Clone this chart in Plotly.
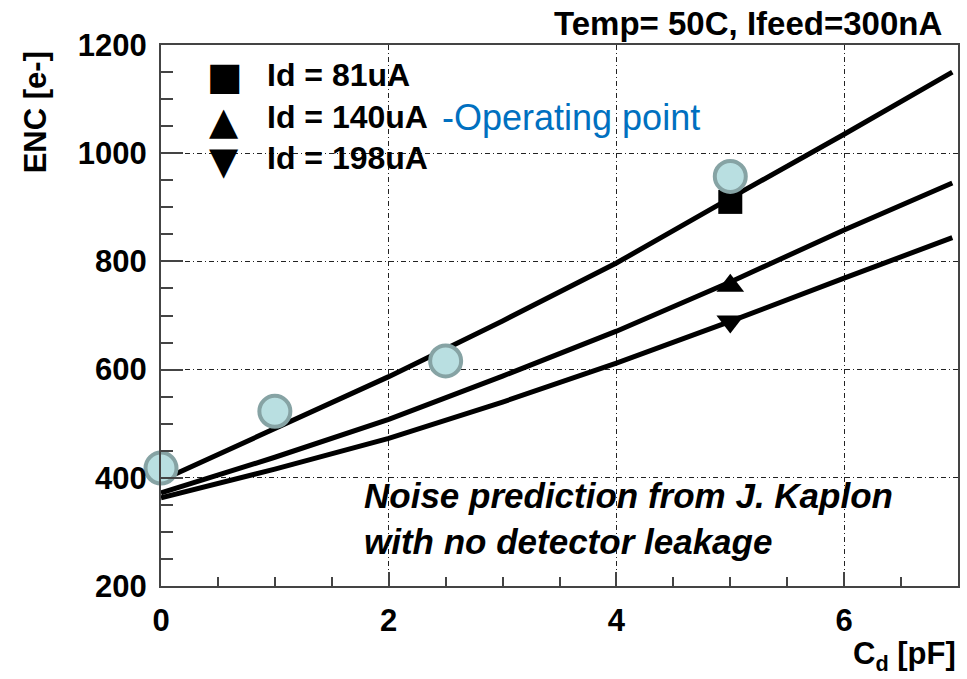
import plotly.graph_objects as go

# ---------------- data ----------------
cd_model = [0, 1, 2, 3, 4, 5, 6, 6.95]
enc_81uA = [395, 490, 587, 690, 797, 917, 1035, 1150]
enc_140uA = [372, 438, 508, 588, 671, 762, 858, 945]
enc_198uA = [363, 416, 473, 540, 612, 689, 769, 844]

cd_meas_id = [5]
enc_meas_81 = [910]
enc_meas_140 = [755]
enc_meas_198 = [689]

cd_circles = [0, 1, 2.5, 5]
enc_circles = [418, 523, 616, 957]

legend_labels = ["Id = 81uA", "Id = 140uA", "Id = 198uA"]
x_ticks = [0, 2, 4, 6]
y_ticks = [200, 400, 600, 800, 1000, 1200]

FONT = "Liberation Sans, Arial, sans-serif"

fig = go.Figure()

for ys, nm in zip([enc_81uA, enc_140uA, enc_198uA], legend_labels):
    fig.add_trace(go.Scatter(x=cd_model, y=ys, mode="lines", name=nm,
                             line=dict(color="black", width=5), showlegend=False))

fig.add_trace(go.Scatter(x=cd_meas_id, y=enc_meas_81, mode="markers", name=legend_labels[0],
                         marker=dict(symbol="square", size=24, color="black"), showlegend=False))
fig.add_trace(go.Scatter(x=cd_meas_id, y=enc_meas_140, mode="markers", name=legend_labels[1],
                         marker=dict(symbol="triangle-up", size=24, color="black"), showlegend=False))
fig.add_trace(go.Scatter(x=cd_meas_id, y=enc_meas_198, mode="markers", name=legend_labels[2],
                         marker=dict(symbol="triangle-down", size=24, color="black"), showlegend=False))

fig.add_trace(go.Scatter(x=cd_circles, y=enc_circles, mode="markers", name="measured",
                         marker=dict(symbol="circle", size=31, color="#b9dfe1",
                                     line=dict(color="#86a3a4", width=4)),
                         cliponaxis=False, showlegend=False))

W, H = 967, 679
L, R, T, B = 161, 7, 45, 93
pw, ph = W - L - R, H - T - B


def px(xp):
    return (xp - L) / pw


def py(yp):
    return (H - B - yp) / ph


annotations = []
# legend (symbols + labels)
sym = ["■", "▲", "▼"]
sym_pos = [(225, 76), (224, 121), (224, 161)]
lab_y = [75, 117, 158]
for s, (sx, sy), lbl, ly in zip(sym, sym_pos, legend_labels, lab_y):
    annotations.append(dict(text=s, x=px(sx), y=py(sy), xref="paper", yref="paper",
                            xanchor="center", yanchor="middle", showarrow=False,
                            font=dict(family="DejaVu Sans", size=38, color="black")))
    annotations.append(dict(text=lbl, x=px(265), y=py(ly), xref="paper", yref="paper",
                            xanchor="left", yanchor="middle", showarrow=False,
                            font=dict(family=FONT, size=32, color="black", weight="bold")))

annotations.append(dict(text="-Operating point", x=px(441), y=py(117), xref="paper", yref="paper",
                        xanchor="left", yanchor="middle", showarrow=False,
                        font=dict(family=FONT, size=36, color="#0070c0")))
annotations.append(dict(text="Temp= 50C, Ifeed=300nA", x=px(946), y=py(24), xref="paper", yref="paper",
                        xanchor="right", yanchor="middle", showarrow=False,
                        font=dict(family=FONT, size=33, color="black", weight="bold")))
annotations.append(dict(text="<i>Noise prediction from J. Kaplon<br>with no detector leakage</i>",
                        x=px(363), y=py(518), xref="paper", yref="paper", align="left",
                        xanchor="left", yanchor="middle", showarrow=False,
                        font=dict(family=FONT, size=35, color="black", weight="bold", style="italic")))
annotations.append(dict(text="C<sub>d</sub> [pF]", x=px(960), y=py(656), xref="paper", yref="paper",
                        xanchor="right", yanchor="middle", showarrow=False,
                        font=dict(family=FONT, size=31, color="black", weight="bold")))
annotations.append(dict(text="ENC [e-]", x=px(35), y=py(112), xref="paper", yref="paper",
                        xanchor="center", yanchor="middle", showarrow=False, textangle=-90,
                        font=dict(family=FONT, size=31, color="black", weight="bold")))

axis_common = dict(showline=True, linecolor="#444", linewidth=2, mirror=True,
                   ticks="inside", tickcolor="#444", tickwidth=1.5,
                   showgrid=True, gridcolor="#222", gridwidth=1, griddash="5px,3px,1px,3px",
                   zeroline=False,
                   tickfont=dict(family=FONT, size=31, color="black", weight="bold"))

fig.update_layout(
    width=W, height=H, autosize=False,
    margin=dict(l=L, r=R, t=T, b=B, pad=0),
    paper_bgcolor="white", plot_bgcolor="white",
    annotations=annotations,
    xaxis=dict(range=[0, 7], tickvals=x_ticks, ticklen=14,
               minor=dict(dtick=0.5, tick0=0, ticks="inside", ticklen=9, tickcolor="#444", showgrid=False),
               ticklabelstandoff=6, **axis_common),
    yaxis=dict(range=[200, 1200], tickvals=y_ticks, ticklen=22,
               minor=dict(dtick=50, tick0=0, ticks="inside", ticklen=12, tickcolor="#444", showgrid=False),
               ticklabelstandoff=6, **axis_common),
)

fig.write_html("out.html")
